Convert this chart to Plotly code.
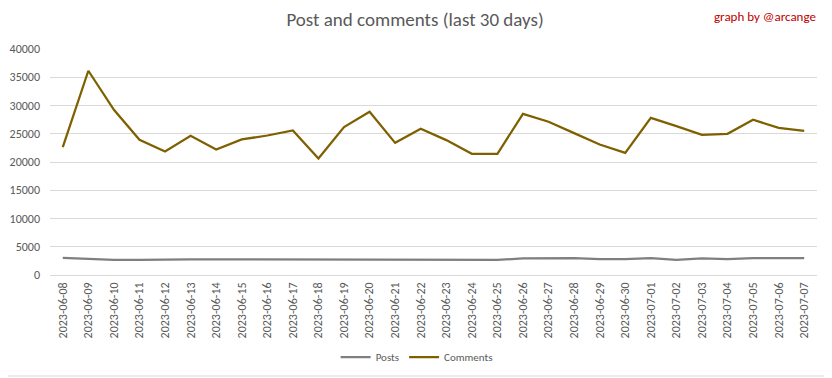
import plotly.graph_objects as go

dates = ["2023-06-08","2023-06-09","2023-06-10","2023-06-11","2023-06-12","2023-06-13","2023-06-14",
         "2023-06-15","2023-06-16","2023-06-17","2023-06-18","2023-06-19","2023-06-20","2023-06-21",
         "2023-06-22","2023-06-23","2023-06-24","2023-06-25","2023-06-26","2023-06-27","2023-06-28",
         "2023-06-29","2023-06-30","2023-07-01","2023-07-02","2023-07-03","2023-07-04","2023-07-05",
         "2023-07-06","2023-07-07"]
posts = [3010, 2800, 2660, 2660, 2780, 2780, 2780, 2780, 2780, 2660, 2660, 2780, 2780, 2780,
         2780, 2780, 2660, 2660, 2950, 3000, 3000, 2830, 2830, 3000, 2660, 2950, 2830, 3000,
         3000, 3000]
comments = [22650, 36150, 29240, 23930, 21860, 24630, 22210, 23990, 24690, 25580, 20620, 26170,
            28890, 23390, 25870, 23870, 21440, 21440, 28530, 27120, 25110, 23100, 21620, 27820,
            26350, 24810, 24990, 27470, 26050, 25520]

FONT = "Carlito, Liberation Sans Narrow, Lato, sans-serif"

fig = go.Figure()
fig.add_trace(go.Scatter(x=dates, y=posts, name="Posts", mode="lines",
                         line=dict(color="#7f7f7f", width=2.25)))
fig.add_trace(go.Scatter(x=dates, y=comments, name="Comments", mode="lines",
                         line=dict(color="#7f6000", width=2.25)))

fig.update_layout(
    width=824, height=370,
    margin=dict(l=42, r=15, t=41, b=103, autoexpand=False),
    paper_bgcolor="white", plot_bgcolor="white",
    font=dict(family=FONT, color="#595959", size=11),
    title=dict(text="Post and comments (last 30 days)", x=0.494, xanchor="center",
               y=0.968, yanchor="middle",
               font=dict(family=FONT, size=19, color="#595959", weight=300)),
    showlegend=True,
    legend=dict(orientation="h", x=0.478, xanchor="center", y=-0.363, yanchor="middle",
                font=dict(family=FONT, size=11, color="#595959"),
                itemwidth=30, tracegroupgap=0, bgcolor="rgba(0,0,0,0)"),
    xaxis=dict(type="category", tickangle=-90, showgrid=False, zeroline=False,
               showline=False, ticks="", range=[-0.5, 29.5], ticklabelstandoff=4,
               automargin=False,
               tickfont=dict(family=FONT, size=12, color="#595959")),
    yaxis=dict(range=[0, 40000], dtick=5000, showgrid=True, gridcolor="#d9d9d9",
               gridwidth=1, zeroline=True, zerolinecolor="#d9d9d9", zerolinewidth=1,
               showline=False, ticks="", tickformat="d", ticklabelstandoff=9,
               automargin=False,
               tickfont=dict(family=FONT, size=12, color="#595959")),
    annotations=[dict(text="graph by @arcange", xref="paper", yref="paper",
                      x=1.0013, y=1.1416, xanchor="right", yanchor="middle", showarrow=False,
                      font=dict(family=FONT, size=13, color="#c00000"))],
    shapes=[dict(type="rect", xref="paper", yref="paper",
                 x0=-0.1, x1=1.0169, y0=-0.4469, y1=1.3,
                 line=dict(color="#d9d9d9", width=1), fillcolor="rgba(0,0,0,0)", layer="below")],
)

fig.write_html("out.html")
